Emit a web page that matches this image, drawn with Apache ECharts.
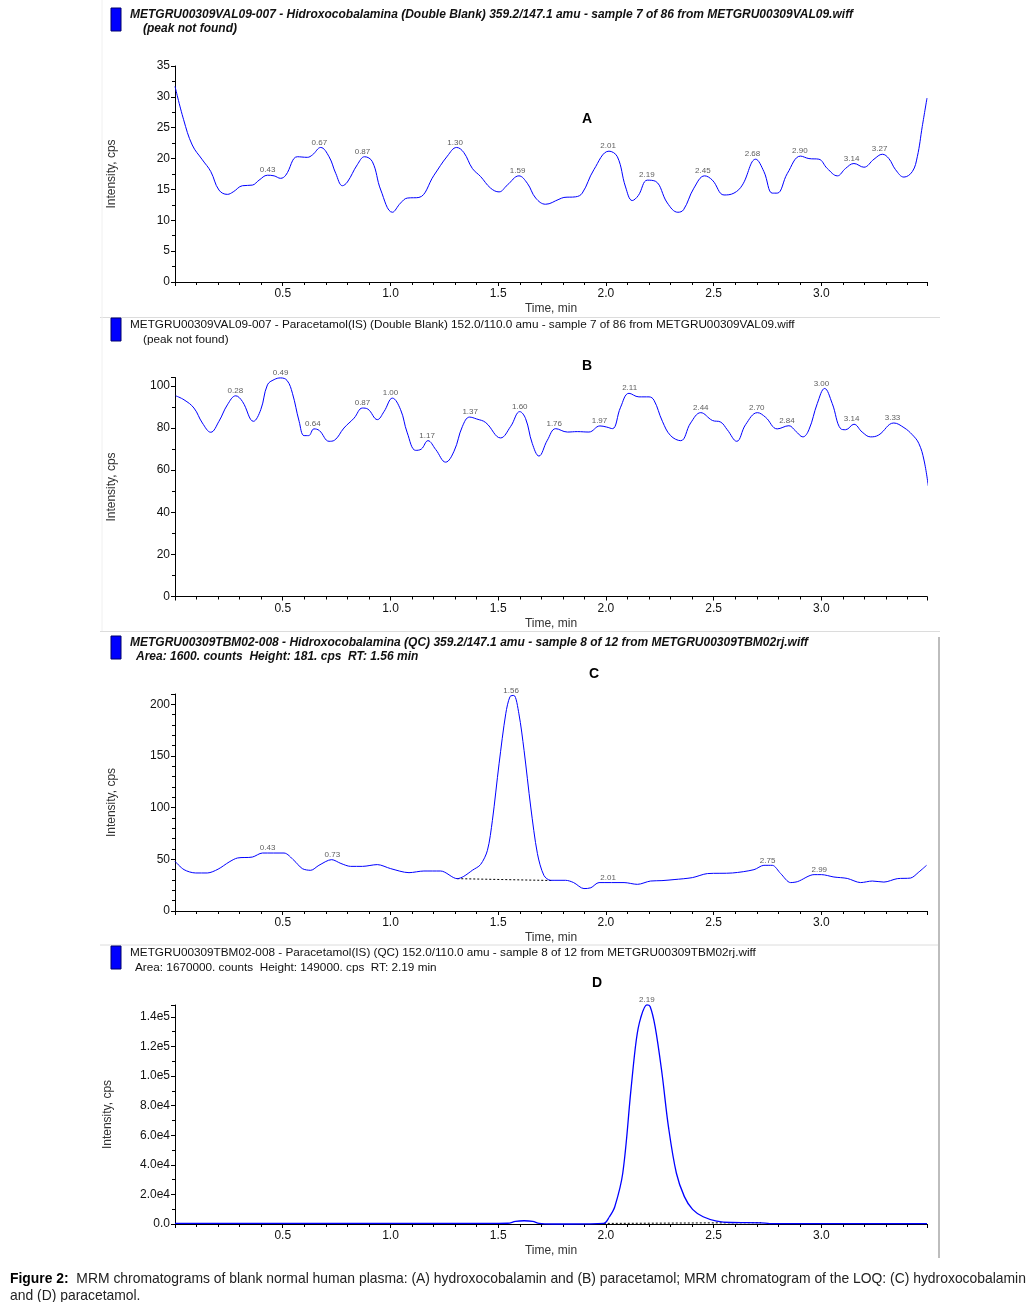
<!DOCTYPE html>
<html>
<head>
<meta charset="utf-8">
<script src="https://cdn.jsdelivr.net/npm/echarts@6/dist/echarts.min.js"></script>
<style>
html,body{margin:0;padding:0;background:#fff;}
#chart{width:1034px;height:1302px;}
</style>
</head>
<body>
<div id="chart"></div>
<script>
// ---------- data (time, min ; intensity, cps) ----------
const traceA = [[0,31.7],[0.04,26.3],[0.08,22.2],[0.127,19.8],[0.166,17.9],[0.204,14.9],[0.243,14.2],[0.27,14.6],[0.313,15.6],[0.359,15.7],[0.39,16.5],[0.429,17.3],[0.46,17.2],[0.49,16.8],[0.514,17.3],[0.568,20.3],[0.614,20.2],[0.638,20.6],[0.676,21.8],[0.715,20.3],[0.746,17.6],[0.777,15.6],[0.80,16.2],[0.846,19.0],[0.88,20.3],[0.916,19.5],[0.955,14.9],[1.009,11.3],[1.047,12.8],[1.078,13.6],[1.132,13.7],[1.202,17.3],[1.264,20.4],[1.307,21.8],[1.34,21.0],[1.38,18.4],[1.418,17.1],[1.465,15.2],[1.504,14.6],[1.542,15.7],[1.596,17.2],[1.635,16.0],[1.674,13.6],[1.72,12.6],[1.782,13.4],[1.805,13.7],[1.859,13.8],[1.89,14.4],[1.944,18.2],[2.014,21.2],[2.053,20.3],[2.091,15.4],[2.122,13.2],[2.15,14.0],[2.192,16.5],[2.231,16.3],[2.285,12.8],[2.334,11.3],[2.36,11.7],[2.408,15.2],[2.458,17.2],[2.494,16.5],[2.548,14.1],[2.594,14.4],[2.633,15.7],[2.695,19.9],[2.733,17.9],[2.772,14.4],[2.795,14.4],[2.842,17.6],[2.903,20.4],[2.942,20.0],[2.988,19.9],[3.027,18.4],[3.074,17.2],[3.112,18.4],[3.151,19.2],[3.197,18.6],[3.244,19.9],[3.283,20.7],[3.313,20.0],[3.344,18.2],[3.383,17.0],[3.422,17.9],[3.445,20.3],[3.468,25.2],[3.49,29.8]];
const peaksA = [[0.43,17.3],[0.67,21.8],[0.87,20.3],[1.30,21.8],[1.59,17.2],[2.01,21.2],[2.19,16.5],[2.45,17.2],[2.68,19.9],[2.90,20.4],[3.14,19.2],[3.27,20.7]];

const traceB = [[0.003,95.3],[0.042,93.4],[0.088,89.5],[0.127,82.4],[0.166,78.0],[0.204,83.2],[0.243,91.0],[0.282,95.3],[0.313,92.6],[0.364,83.2],[0.398,88.7],[0.429,100.5],[0.46,103.0],[0.49,103.8],[0.52,102.6],[0.545,96.5],[0.576,83.2],[0.599,76.4],[0.62,76.4],[0.645,79.6],[0.67,78.8],[0.715,73.7],[0.74,74.2],[0.784,80.0],[0.831,84.7],[0.87,89.5],[0.895,89],[0.939,84.0],[0.97,87.8],[1.009,94.2],[1.047,88.7],[1.078,77.7],[1.117,69.4],[1.143,70],[1.174,74.0],[1.21,69.8],[1.256,63.8],[1.295,69.0],[1.334,80.8],[1.367,85.2],[1.40,84.3],[1.442,82.6],[1.511,75.3],[1.558,80.8],[1.60,87.8],[1.627,84.5],[1.658,72.7],[1.689,66.7],[1.728,74.2],[1.767,79.7],[1.821,78.1],[1.867,78.3],[1.921,78.1],[1.972,81.0],[2.002,80.5],[2.03,79.7],[2.068,89.9],[2.107,96.5],[2.153,94.8],[2.2,94.8],[2.223,93.2],[2.262,83.2],[2.3,76.4],[2.347,74.0],[2.393,82.4],[2.44,87.3],[2.494,83.6],[2.533,82.8],[2.563,79.2],[2.607,73.7],[2.648,81.6],[2.703,87.3],[2.741,85.1],[2.795,79.6],[2.849,81.1],[2.88,78.6],[2.914,75.8],[2.942,79.2],[2.981,91.7],[3.015,98.8],[3.05,91.7],[3.089,79.7],[3.112,79.2],[3.151,81.8],[3.189,78.1],[3.228,75.8],[3.266,76.7],[3.336,82.4],[3.383,80.2],[3.422,76.8],[3.452,72.7],[3.476,64.8],[3.496,52.5]];
const peaksB = [[0.28,95.3],[0.49,103.8],[0.64,79.6],[0.87,89.5],[1.00,94.2],[1.17,74.0],[1.37,85.2],[1.60,87.8],[1.76,79.7],[1.97,81.0],[2.11,96.5],[2.44,87.3],[2.70,87.3],[2.84,81.1],[3.00,98.8],[3.14,81.8],[3.33,82.4]];

const traceC = [[0,48.1],[0.042,40.0],[0.096,36.8],[0.15,36.8],[0.20,40.5],[0.251,47.4],[0.29,51.3],[0.359,52.2],[0.406,56.1],[0.506,56.1],[0.552,49.0],[0.591,41.0],[0.63,39.4],[0.668,44.2],[0.727,49.7],[0.77,46],[0.815,43.2],[0.87,43.2],[0.939,44.9],[1.001,41.0],[1.086,37.1],[1.155,38.7],[1.233,38.7],[1.31,31.3],[1.34,33.5],[1.38,39.4],[1.418,44.9],[1.45,58.7],[1.473,87.7],[1.504,142.5],[1.535,190.9],[1.555,207.6],[1.573,208.6],[1.596,190.9],[1.62,155.4],[1.651,100.6],[1.682,55.5],[1.712,34.5],[1.743,29.7],[1.813,29.7],[1.85,27.5],[1.898,21.7],[1.93,22.5],[1.968,27.5],[2.084,27.5],[2.146,25.8],[2.207,29.0],[2.26,29.4],[2.316,30.4],[2.401,32.3],[2.471,36.2],[2.587,36.8],[2.687,40.0],[2.733,44.2],[2.772,44.2],[2.811,36.2],[2.857,27.5],[2.89,28.5],[2.966,35.2],[3.0,35.2],[3.058,32.9],[3.12,31.5],[3.182,27.5],[3.236,29.0],[3.29,28.0],[3.352,31.3],[3.414,31.9],[3.452,37.7],[3.488,44.2]];
const baseC = [[1.31,31.3],[1.75,29.5]];
const peaksC = [[0.43,56.1],[0.73,49.7],[1.56,208.6],[2.01,27.5],[2.75,44.2],[2.99,35.2]];

const traceD = [[0,400],[0.5,400],[1.0,400],[1.5,400],[1.545,500],[1.58,1800],[1.62,2200],[1.66,1800],[1.69,400],[1.75,0],[1.84,0],[1.99,400],[2.016,4900],[2.041,11700],[2.078,34300],[2.116,90600],[2.141,124500],[2.161,139100],[2.19,148100],[2.205,147000],[2.228,133500],[2.26,101900],[2.29,65800],[2.327,34300],[2.364,18500],[2.402,9900],[2.451,4900],[2.514,2000],[2.58,1000],[2.72,800],[2.76,300],[3.0,300],[3.49,300]];
const baseD = [[1.99,400],[2.72,900]];
const peaksD = [[2.19,148100]];

const timeTicks = ['0.5','1.0','1.5','2.0','2.5','3.0'];

const titles = [
  {l1:'METGRU00309VAL09-007 - Hidroxocobalamina (Double Blank) 359.2/147.1 amu - sample 7 of 86 from METGRU00309VAL09.wiff', l2:'(peak not found)', bold:true},
  {l1:'METGRU00309VAL09-007 - Paracetamol(IS) (Double Blank) 152.0/110.0 amu - sample 7 of 86 from METGRU00309VAL09.wiff', l2:'(peak not found)', bold:false},
  {l1:'METGRU00309TBM02-008 - Hidroxocobalamina (QC) 359.2/147.1 amu - sample 8 of 12 from METGRU00309TBM02rj.wiff', l2:'Area: 1600. counts  Height: 181. cps  RT: 1.56 min', bold:true},
  {l1:'METGRU00309TBM02-008 - Paracetamol(IS) (QC) 152.0/110.0 amu - sample 8 of 12 from METGRU00309TBM02rj.wiff', l2:'Area: 1670000. counts  Height: 149000. cps  RT: 2.19 min', bold:false}
];
const panelLetters = ['A','B','C','D'];

// ---------- layout ----------
const FONT = "'Liberation Sans', Arial, sans-serif";
const grids = [
  {left:175, top:66, width:752, height:216},
  {left:175, top:377.5, width:752, height:219},
  {left:175, top:694, width:752, height:217},
  {left:175, top:1005, width:752, height:219}
];
const yCfg = [
  {max:35, interval:5, minor:2, fmt:v=>String(v)},
  {max:104, interval:20, minor:2, fmt:v=>String(v)},
  {max:210, interval:50, minor:5, fmt:v=>String(v)},
  {max:148000, interval:20000, minor:2, fmt:v=>{ if(v===0) return '0.0'; const e=Math.floor(Math.log10(v)); return (v/Math.pow(10,e)).toFixed(1)+'e'+e; }}
];
const titleY = [15, 325, 643, 953];
const line2 = [{x:143,y:29},{x:143,y:340},{x:136,y:657},{x:135,y:968}];
const rectY = [8, 318, 636, 946];
const letterPos = [[587,119],[587,366],[594,674],[597,983]];
const titleFont = [12, 11.75, 12, 11.75];

const axisColor = '#000';
const xAxes = grids.map((g,i)=>({
  type:'value', gridIndex:i, min:0, max:3.49, interval:0.5,
  name:'Time, min', nameLocation:'middle', nameGap:21,
  nameTextStyle:{fontFamily:FONT, fontSize:12, color:'#333'},
  axisLine:{show:true, onZero:false, lineStyle:{color:axisColor, width:1}},
  axisTick:{show:true, length:4, lineStyle:{color:axisColor}},
  minorTick:{show:true, splitNumber:5, length:3, lineStyle:{color:axisColor}},
  splitLine:{show:false},
  axisLabel:{showMinLabel:false, showMaxLabel:false, fontFamily:FONT, fontSize:12, color:'#111', margin:6,
    formatter:v=>{const s=v.toFixed(1); return timeTicks.includes(s)?s:'';}}
}));
const yAxes = grids.map((g,i)=>({
  type:'value', gridIndex:i, min:0, max:yCfg[i].max, interval:yCfg[i].interval,
  name:'Intensity, cps', nameLocation:'middle', nameGap: i===3?61:57,
  nameTextStyle:{fontFamily:FONT, fontSize:12, color:'#333'},
  axisLine:{show:true, lineStyle:{color:axisColor, width:1}},
  axisTick:{show:true, length:4, lineStyle:{color:axisColor}},
  minorTick:{show:true, splitNumber:yCfg[i].minor, length:3, lineStyle:{color:axisColor}},
  splitLine:{show:false},
  axisLabel:{showMaxLabel: i===0, fontFamily:FONT, fontSize:12, color:'#111', margin:5, formatter:yCfg[i].fmt}
}));

const traces = [traceA, traceB, traceC, traceD];
const peaks = [peaksA, peaksB, peaksC, peaksD];
const bases = [null, null, baseC, baseD];
const smooths = [0.4, 0.4, 0.3, 0.35];
const widths = [1, 1, 1, 1.3];

const series = [];
traces.forEach((t,i)=>{
  series.push({type:'line', xAxisIndex:i, yAxisIndex:i, data:t, showSymbol:false, smooth:smooths[i], clip:false,
    lineStyle:{color:'#0000ff', width:widths[i]}, silent:true, z:3});
  if (bases[i]) series.push({type:'line', xAxisIndex:i, yAxisIndex:i, data:bases[i], showSymbol:false,
    lineStyle:{color:'#000', width:1, type:[2,2]}, silent:true, z:2});
  series.push({type:'scatter', xAxisIndex:i, yAxisIndex:i, data:peaks[i], symbolSize:0, silent:true, clip:false,
    label:{show:true, position:'top', distance:1, fontFamily:FONT, fontSize:8, color:'#333',
      formatter:p=>p.value[0].toFixed(2)}});
});

const graphic = [];
// panel separators
[317.5, 631.5, 945].forEach(y=>graphic.push({type:'line', shape:{x1:100,y1:y,x2:940,y2:y}, style:{stroke:'#dcdcdc', lineWidth:1}, silent:true}));
graphic.push({type:'line', shape:{x1:102,y1:0,x2:102,y2:631}, style:{stroke:'#f0f0f0', lineWidth:1}, silent:true});
graphic.push({type:'line', shape:{x1:939,y1:637,x2:939,y2:1258}, style:{stroke:'#bdbdbd', lineWidth:2}, silent:true});
titles.forEach((t,i)=>{
  graphic.push({type:'rect', shape:{x:111,y:rectY[i],width:10,height:23}, style:{fill:'#0000ff', stroke:'#00006a', lineWidth:1}, silent:true});
  const fs = t.bold ? 'italic' : 'normal';
  const fw = t.bold ? 'bold' : 'normal';
  graphic.push({type:'text', x:130, y:titleY[i], style:{text:t.l1, fontFamily:FONT, fontSize:titleFont[i], fontStyle:fs, fontWeight:fw, fill:'#111', verticalAlign:'middle', align:'left'}, silent:true});
  graphic.push({type:'text', x:line2[i].x, y:line2[i].y, style:{text:t.l2, fontFamily:FONT, fontSize:titleFont[i], fontStyle:fs, fontWeight:fw, fill:'#111', verticalAlign:'middle', align:'left'}, silent:true});
  graphic.push({type:'text', x:letterPos[i][0], y:letterPos[i][1], style:{text:panelLetters[i], fontFamily:FONT, fontSize:14, fontWeight:'bold', fill:'#000', verticalAlign:'middle', align:'center'}, silent:true});
});
// caption
graphic.push({type:'text', x:10, y:1279, style:{
  text:'{b|Figure 2:}  MRM chromatograms of blank normal human plasma: (A) hydroxocobalamin and (B) paracetamol; MRM chromatogram of the LOQ: (C) hydroxocobalamin',
  rich:{b:{fontWeight:'bold', fontFamily:FONT, fontSize:13.9, fill:'#000'}},
  fontFamily:FONT, fontSize:13.9, fill:'#222', verticalAlign:'middle', align:'left'}, silent:true});
graphic.push({type:'text', x:10, y:1296, style:{text:'and (D) paracetamol.', fontFamily:FONT, fontSize:13.9, fill:'#222', verticalAlign:'middle', align:'left'}, silent:true});

const chart = echarts.init(document.getElementById('chart'), null, {renderer:'canvas', width:1034, height:1302});
chart.setOption({
  animation:false,
  backgroundColor:'#fff',
  grid:grids,
  xAxis:xAxes,
  yAxis:yAxes,
  series:series,
  graphic:graphic
});
</script>
</body>
</html>
